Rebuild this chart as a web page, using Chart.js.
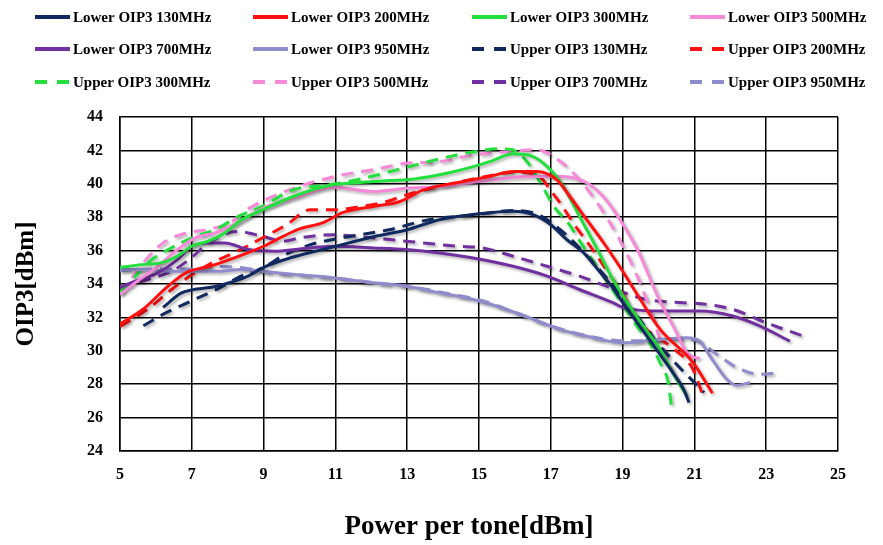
<!DOCTYPE html>
<html>
<head>
<meta charset="utf-8">
<script src="https://cdn.jsdelivr.net/npm/chart.js@4/dist/chart.umd.min.js"></script>
<style>
  html, body { margin: 0; padding: 0; background: #fff; }
  #oip3Chart { display: block; }
</style>
</head>
<body>
<canvas id="oip3Chart" width="883" height="545"></canvas>
<script>
// Axis ticks
const xTicks = [5, 7, 9, 11, 13, 15, 17, 19, 21, 23, 25];
const yTicks = [24, 26, 28, 30, 32, 34, 36, 38, 40, 42, 44];

// Lower / Upper OIP3 per frequency (power per tone -> OIP3)
const lower130X = [6.2, 6.7, 7.0, 7.65, 8.55, 9.0, 9.8, 10.9, 12.0, 13.0, 13.9, 15.0, 15.95, 16.5, 17.0, 17.45, 17.9, 18.3, 18.75, 19.0, 19.5, 20.0, 20.4, 20.7, 20.85];
const lower130Y = [32.6, 33.45, 33.65, 33.85, 34.45, 35.0, 35.6, 36.2, 36.8, 37.25, 37.85, 38.2, 38.35, 38.15, 37.55, 36.65, 35.9, 34.9, 33.7, 32.9, 31.4, 29.9, 28.7, 27.7, 26.9];

const lower200X = [5.0, 5.65, 6.3, 6.86, 7.5, 8.43, 9.0, 9.54, 10.0, 10.66, 11.2, 12.05, 12.8, 13.45, 14.38, 15.3, 15.95, 16.6, 17.17, 17.53, 18.0, 18.46, 18.93, 19.4, 20.04, 20.96, 21.5];
const lower200Y = [31.6, 32.5, 33.8, 34.7, 35.06, 35.76, 36.26, 36.85, 37.3, 37.67, 38.27, 38.64, 38.94, 39.64, 40.06, 40.44, 40.73, 40.73, 40.24, 39.24, 37.85, 36.5, 35.0, 33.4, 31.3, 29.3, 27.46];

const lower300X = [5.0, 5.6, 6.16, 6.6, 7.0, 7.45, 7.92, 8.39, 8.98, 9.82, 10.8, 11.6, 12.5, 13.0, 13.9, 14.84, 15.3, 15.95, 16.42, 16.9, 17.35, 17.8, 18.3, 18.73, 19.5, 20.04, 20.5, 20.79];
const lower300Y = [35.0, 35.16, 35.28, 35.66, 36.26, 36.56, 37.06, 37.85, 38.45, 39.24, 39.9, 40.06, 40.2, 40.24, 40.54, 41.03, 41.33, 41.8, 41.7, 41.03, 39.84, 38.05, 36.06, 34.27, 31.7, 30.1, 28.3, 27.3];

const lower500X = [5.0, 5.42, 6.06, 6.6, 7.1, 7.65, 8.0, 8.57, 9.0, 9.92, 10.93, 12.05, 12.98, 13.9, 15.03, 16.4, 17.35, 18.0, 18.46, 18.93, 19.45, 19.95, 20.5, 20.79, 21.0, 21.15];
const lower500Y = [33.37, 34.07, 35.06, 36.06, 36.76, 37.06, 37.37, 38.05, 38.56, 39.2, 39.8, 39.54, 39.74, 39.84, 40.14, 40.44, 40.44, 40.06, 39.24, 37.85, 35.9, 33.4, 31.1, 29.9, 29.6, 29.55];

const lower700X = [5.0, 5.42, 6.06, 6.6, 7.0, 7.45, 7.92, 8.57, 9.3, 10.0, 10.93, 12.05, 12.98, 13.9, 14.84, 15.95, 16.9, 17.8, 18.73, 19.0, 20.04, 21.15, 22.07, 22.83, 23.66];
const lower700Y = [33.8, 34.17, 34.67, 35.46, 36.26, 36.46, 36.46, 36.06, 35.96, 36.1, 36.26, 36.16, 36.06, 35.86, 35.56, 35.06, 34.47, 33.67, 32.88, 32.6, 32.38, 32.38, 32.08, 31.48, 30.58];

const lower950X = [5.0, 5.42, 6.72, 7.65, 8.39, 8.95, 9.87, 10.93, 12.05, 12.98, 13.9, 14.84, 15.5, 16.5, 17.26, 18.2, 19.0, 20.04, 20.79, 21.15, 21.43, 21.9, 22.18, 22.55];
const lower950Y = [34.87, 34.87, 34.76, 34.76, 34.87, 34.77, 34.57, 34.37, 34.07, 33.87, 33.47, 33.07, 32.67, 31.9, 31.28, 30.78, 30.48, 30.68, 30.78, 30.58, 29.7, 28.3, 27.94, 28.1];

const upper130X = [5.65, 6.3, 6.95, 7.8, 8.3, 9.0, 9.55, 10.3, 11.4, 12.5, 13.6, 14.9, 16.0, 16.6, 17.0, 17.5, 18.0, 18.5, 19.0, 19.5, 20.0, 20.5, 21.0, 21.27];
const upper130Y = [31.5, 32.3, 32.95, 33.8, 34.4, 35.0, 35.7, 36.35, 36.85, 37.25, 37.85, 38.15, 38.4, 38.2, 37.7, 36.8, 35.7, 34.5, 33.2, 31.8, 30.4, 29.2, 28.1, 27.5];

const upper200X = [5.0, 5.77, 6.44, 6.9, 7.5, 8.3, 9.0, 9.64, 10.3, 11.0, 11.6, 12.43, 12.98, 13.9, 14.93, 16.1, 16.5, 16.78, 16.98, 17.26, 17.62, 18.1, 18.73, 19.0, 19.57, 20.32, 20.96, 21.24];
const upper200Y = [31.45, 32.5, 33.67, 34.4, 35.2, 36.0, 36.8, 37.55, 38.45, 38.45, 38.6, 38.94, 39.34, 39.84, 40.33, 40.7, 40.6, 40.24, 39.64, 38.85, 37.67, 36.26, 34.27, 33.4, 31.48, 30.28, 28.9, 27.3];

const upper300X = [5.0, 5.42, 5.78, 6.34, 7.1, 7.65, 8.3, 8.95, 9.82, 10.7, 11.6, 12.52, 13.45, 14.38, 14.93, 15.5, 15.9, 16.33, 16.7, 17.1, 17.5, 17.8, 18.84, 19.4, 19.8, 20.04, 20.27, 20.36];
const upper300Y = [33.5, 34.46, 35.28, 36.06, 36.85, 37.25, 38.05, 38.64, 39.64, 39.9, 40.24, 40.73, 41.25, 41.73, 41.93, 42.1, 42.05, 41.35, 40.1, 38.6, 37.6, 36.6, 33.27, 31.48, 30.3, 29.3, 28.1, 26.7];

const upper500X = [5.0, 5.65, 6.2, 6.86, 7.4, 8.06, 8.62, 9.36, 10.3, 11.2, 12.05, 12.98, 13.9, 14.84, 15.95, 16.6, 16.9, 17.35, 17.8, 18.3, 18.93, 19.4, 19.76, 20.04, 20.3, 20.4];
const upper500Y = [33.4, 35.28, 36.46, 37.06, 37.25, 37.67, 38.56, 39.34, 40.06, 40.54, 40.84, 41.23, 41.33, 41.73, 41.95, 42.05, 41.85, 41.2, 40.24, 38.85, 36.6, 34.5, 32.5, 30.7, 29.3, 28.6];

const upper700X = [5.0, 5.78, 6.53, 7.0, 7.5, 8.25, 8.98, 9.54, 10.0, 10.93, 11.6, 12.52, 13.45, 14.38, 15.1, 15.95, 16.9, 17.8, 18.55, 19.67, 20.7, 21.34, 22.07, 23.0, 24.03];
const upper700Y = [33.8, 34.27, 34.87, 35.6, 36.5, 37.15, 36.85, 36.56, 36.76, 36.95, 36.85, 36.66, 36.46, 36.26, 36.16, 35.66, 35.06, 34.47, 33.87, 33.07, 32.88, 32.78, 32.48, 31.68, 30.88];

const upper950X = [5.0, 6.0, 7.0, 7.8, 8.5, 9.3, 10.2, 11.2, 12.2, 13.2, 14.2, 15.1, 16.0, 17.0, 18.0, 19.0, 20.0, 20.5, 20.96, 21.62, 22.18, 22.83, 23.4];
const upper950Y = [34.8, 34.9, 34.9, 35.05, 34.95, 34.65, 34.5, 34.3, 34.05, 33.8, 33.4, 33.0, 32.3, 31.5, 30.9, 30.6, 30.6, 30.7, 30.68, 29.8, 29.0, 28.6, 28.7];

const FONT = '"Liberation Serif", "Times New Roman", serif';
const X_TITLE = 'Power per tone[dBm]';

function toPoints(xs, ys) {
    return xs.map((x, i) => ({ x: x, y: ys[i] }));
}

function series(label, xs, ys, color, dashed) {
    return {
        label: label,
        data: toPoints(xs, ys),
        borderColor: color,
        backgroundColor: color,
        borderWidth: 3,
        borderDash: dashed ? [12, 8] : [],
        pointRadius: 0,
        fill: false,
        cubicInterpolationMode: 'monotone'
    };
}

const navy = '#10295f';
const red = '#ff1010';
const green = '#22e03c';
const pink = '#f78ad8';
const purple = '#7030a0';
const lavender = '#908ccc';

// Custom 4-column legend drawn above the plot
const gridLegend = {
    id: 'gridLegend',
    afterDraw(chart) {
        const ctx = chart.ctx;
        const cols = [35, 253, 472, 690];
        const rows = [17, 49, 82];
        ctx.save();
        chart.data.datasets.forEach((ds, i) => {
            const x0 = cols[i % 4];
            const y = rows[Math.floor(i / 4)];
            ctx.strokeStyle = ds.borderColor;
            ctx.lineWidth = 4;
            ctx.setLineDash(ds.borderDash.length ? [12, 10] : []);
            ctx.beginPath();
            ctx.moveTo(x0, y);
            ctx.lineTo(x0 + 35, y);
            ctx.stroke();
            ctx.setLineDash([]);
            ctx.fillStyle = '#000';
            ctx.font = 'bold 15px ' + FONT;
            ctx.textBaseline = 'middle';
            ctx.fillText(ds.label, x0 + 38, y + 1);
        });
        ctx.restore();
    }
};

// x axis title sits a little left of the plot centre in the original
const xAxisTitle = {
    id: 'xAxisTitle',
    afterDraw(chart) {
        const ctx = chart.ctx;
        ctx.save();
        ctx.fillStyle = '#000';
        ctx.font = 'bold 27px ' + FONT;
        ctx.textAlign = 'center';
        ctx.textBaseline = 'middle';
        ctx.fillText(X_TITLE, 469, 527);
        ctx.restore();
    }
};

// Soft grey shadow under the curves
const lineShadow = {
    id: 'lineShadow',
    beforeDatasetsDraw(chart) {
        const ctx = chart.ctx;
        ctx.save();
        ctx.shadowColor = 'rgba(0, 0, 0, 0.3)';
        ctx.shadowBlur = 3;
        ctx.shadowOffsetX = 2;
        ctx.shadowOffsetY = 2;
    },
    afterDatasetsDraw(chart) {
        chart.ctx.restore();
    }
};

new Chart(document.getElementById('oip3Chart'), {
    type: 'line',
    data: {
        datasets: [
            series('Lower OIP3 130MHz', lower130X, lower130Y, navy, false),
            series('Lower OIP3 200MHz', lower200X, lower200Y, red, false),
            series('Lower OIP3 300MHz', lower300X, lower300Y, green, false),
            series('Lower OIP3 500MHz', lower500X, lower500Y, pink, false),
            series('Lower OIP3 700MHz', lower700X, lower700Y, purple, false),
            series('Lower OIP3 950MHz', lower950X, lower950Y, lavender, false),
            series('Upper OIP3 130MHz', upper130X, upper130Y, navy, true),
            series('Upper OIP3 200MHz', upper200X, upper200Y, red, true),
            series('Upper OIP3 300MHz', upper300X, upper300Y, green, true),
            series('Upper OIP3 500MHz', upper500X, upper500Y, pink, true),
            series('Upper OIP3 700MHz', upper700X, upper700Y, purple, true),
            series('Upper OIP3 950MHz', upper950X, upper950Y, lavender, true)
        ]
    },
    options: {
        responsive: false,
        animation: false,
        devicePixelRatio: 1,
        layout: {
            padding: { top: 117, right: 45, left: 0, bottom: 0 }
        },
        plugins: {
            legend: { display: false },
            tooltip: { enabled: false }
        },
        scales: {
            x: {
                type: 'linear',
                min: 5,
                max: 25,
                afterBuildTicks: (scale) => { scale.ticks = xTicks.map(v => ({ value: v })); },
                afterFit: (scale) => { scale.height = 94; },
                grid: { color: '#000', lineWidth: 1.5, drawTicks: false },
                border: { color: '#000', width: 1.5 },
                ticks: {
                    color: '#000',
                    padding: 14,
                    font: { family: FONT, size: 16, weight: 'bold' }
                }
            },
            y: {
                min: 24,
                max: 44,
                afterBuildTicks: (scale) => { scale.ticks = yTicks.map(v => ({ value: v })); },
                afterFit: (scale) => { scale.width = 120; },
                grid: { color: '#000', lineWidth: 1.5, drawTicks: false },
                border: { color: '#000', width: 1.5 },
                ticks: {
                    color: '#000',
                    padding: 17,
                    font: { family: FONT, size: 16, weight: 'bold' }
                },
                title: {
                    display: true,
                    text: 'OIP3[dBm]',
                    color: '#000',
                    padding: { top: 12, bottom: 0 },
                    font: { family: FONT, size: 25, weight: 'bold' }
                }
            }
        }
    },
    plugins: [lineShadow, gridLegend, xAxisTitle]
});
</script>
</body>
</html>
